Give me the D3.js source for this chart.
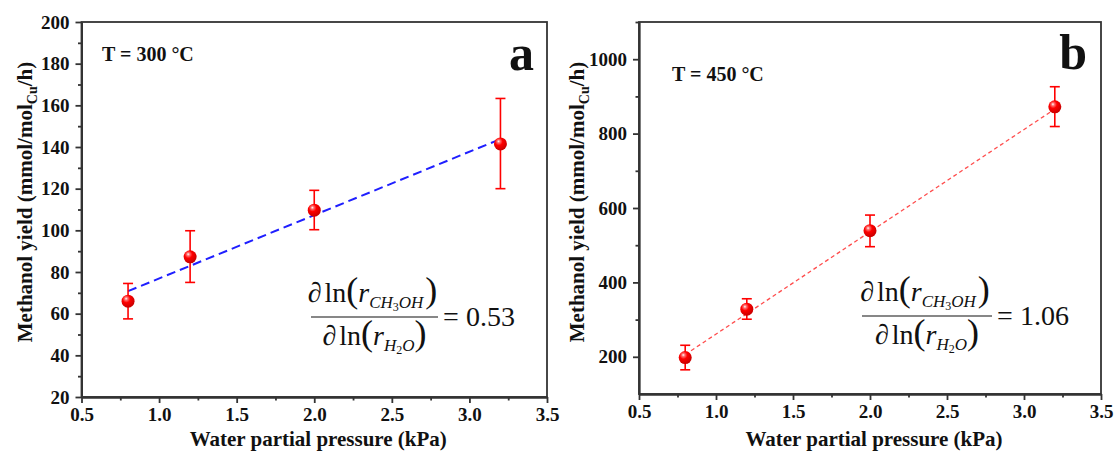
<!DOCTYPE html>
<html>
<head>
<meta charset="utf-8">
<script src="https://cdn.jsdelivr.net/npm/d3@7"></script>
<style>
  body { margin: 0; background: #fff; }
  svg { display: block; }
  .tick text { font-family: "Liberation Serif", "Times New Roman", serif; font-weight: bold; font-size: 19px; fill: #111; }
  .axis path, .axis line { stroke: #333; stroke-width: 1.8; }
  .title { font-family: "Liberation Serif", "Times New Roman", serif; font-weight: bold; fill: #111; }
  .eq { font-family: "Liberation Serif", "Times New Roman", serif; fill: #111; }
</style>
</head>
<body>
<svg id="chart" width="1116" height="453"></svg>
<script>
// Water partial pressure (kPa)
var pressure = [0.8, 1.2, 2.0, 3.2];

// Panel a, T = 300 C
var yield300 = [66, 87.3, 109.7, 141.5];
var err300Low = [57.5, 75, 100.3, 120];
var err300High = [74.5, 99.8, 119.2, 163.3];
var fit300X = [0.8, 3.2];
var fit300Y = [70.8, 143.8];

// Panel b, T = 450 C
var yield450 = [198, 328, 539, 872];
var err450Low = [165, 301, 496, 819];
var err450High = [231, 356, 581, 926];
var fit450X = [0.8, 3.2];
var fit450Y = [206, 866];

// Ticks
var xTicks = [0.5, 1.0, 1.5, 2.0, 2.5, 3.0, 3.5];
var xMinor = [0.75, 1.25, 1.75, 2.25, 2.75, 3.25];
var yTicks300 = [20, 40, 60, 80, 100, 120, 140, 160, 180, 200];
var yMinor300 = [30, 50, 70, 90, 110, 130, 150, 170, 190];
var yTicks450 = [200, 400, 600, 800, 1000];
var yMinor450 = [300, 500, 700, 900, 1100];

var svg = d3.select("#chart");

// sphere look for the markers
var defs = svg.append("defs");
var grad = defs.append("radialGradient")
    .attr("id", "sphere")
    .attr("cx", "40%").attr("cy", "35%").attr("r", "65%")
    .attr("fx", "35%").attr("fy", "30%");
grad.append("stop").attr("offset", "0%").attr("stop-color", "#ffffff");
grad.append("stop").attr("offset", "18%").attr("stop-color", "#ff7070");
grad.append("stop").attr("offset", "45%").attr("stop-color", "#ff0000");
grad.append("stop").attr("offset", "100%").attr("stop-color", "#c80000");

var panels = [
    {
        left: 81.5, right: 547, top: 22, bottom: 397,
        yDomain: [20, 200], yTicks: yTicks300, yMinor: yMinor300,
        values: yield300, low: err300Low, high: err300High,
        fitX: fit300X, fitY: fit300Y,
        fitColor: "#1f1fff", fitWidth: 2, fitDash: "9,5",
        temp: "T = 300 °C", tempX: 102, tempY: 61,
        letter: "a", letterX: 534, letterY: 70,
        yTitleX: 25,
        eqX: 311, eqY: 317, eqW: 127, eqValue: "0.53"
    },
    {
        left: 639, right: 1101, top: 22, bottom: 394,
        yDomain: [100, 1100], yTicks: yTicks450, yMinor: yMinor450,
        values: yield450, low: err450Low, high: err450High,
        fitX: fit450X, fitY: fit450Y,
        fitColor: "#ff4d4d", fitWidth: 1.3, fitDash: "4,3",
        temp: "T = 450 °C", tempX: 672, tempY: 81,
        letter: "b", letterX: 1087, letterY: 69,
        yTitleX: 577,
        eqX: 862, eqY: 316, eqW: 130, eqValue: "1.06"
    }
];

panels.forEach(drawPanel);

/**
 * Draws one panel: axes, frame, fit line, error bars, markers and labels.
 */
function drawPanel(p)
{
    var x = d3.scaleLinear().domain([0.5, 3.5]).range([p.left, p.right]);
    var y = d3.scaleLinear().domain(p.yDomain).range([p.bottom, p.top]);
    var g = svg.append("g");

    // frame
    g.append("rect")
        .attr("x", p.left).attr("y", p.top)
        .attr("width", p.right - p.left).attr("height", p.bottom - p.top)
        .attr("fill", "none").attr("stroke", "#333").attr("stroke-width", 1.8);

    // axes
    g.append("g")
        .attr("class", "axis")
        .attr("transform", "translate(0," + p.bottom + ")")
        .call(d3.axisBottom(x).tickValues(xTicks).tickFormat(d3.format(".1f"))
            .tickSize(6).tickSizeOuter(0).tickPadding(5));
    g.append("g")
        .attr("class", "axis")
        .attr("transform", "translate(0," + p.bottom + ")")
        .call(d3.axisBottom(x).tickValues(xMinor).tickFormat("")
            .tickSize(3.5).tickSizeOuter(0));
    g.append("g")
        .attr("class", "axis")
        .attr("transform", "translate(" + p.left + ",0)")
        .call(d3.axisLeft(y).tickValues(p.yTicks).tickFormat(d3.format("d"))
            .tickSize(6).tickSizeOuter(0).tickPadding(6));
    g.append("g")
        .attr("class", "axis")
        .attr("transform", "translate(" + p.left + ",0)")
        .call(d3.axisLeft(y).tickValues(p.yMinor).tickFormat("")
            .tickSize(3.5).tickSizeOuter(0));

    // fit line
    var fit = p.fitX.map((d, i) => [d, p.fitY[i]]);
    g.append("path")
        .datum(fit)
        .attr("d", d3.line().x(d => x(d[0])).y(d => y(d[1])))
        .attr("fill", "none")
        .attr("stroke", p.fitColor)
        .attr("stroke-width", p.fitWidth)
        .attr("stroke-dasharray", p.fitDash);

    // error bars
    var rows = pressure.map((d, i) => ({x: d, v: p.values[i], lo: p.low[i], hi: p.high[i]}));
    var eb = g.selectAll(".err").data(rows).enter().append("g")
        .attr("stroke", "#ff0000").attr("stroke-width", 1.6);
    eb.append("line")
        .attr("x1", d => x(d.x)).attr("x2", d => x(d.x))
        .attr("y1", d => y(d.lo)).attr("y2", d => y(d.hi));
    eb.append("line")
        .attr("x1", d => x(d.x) - 5).attr("x2", d => x(d.x) + 5)
        .attr("y1", d => y(d.lo)).attr("y2", d => y(d.lo));
    eb.append("line")
        .attr("x1", d => x(d.x) - 5).attr("x2", d => x(d.x) + 5)
        .attr("y1", d => y(d.hi)).attr("y2", d => y(d.hi));

    // markers
    g.selectAll(".pt").data(rows).enter().append("circle")
        .attr("cx", d => x(d.x)).attr("cy", d => y(d.v))
        .attr("r", 6.5)
        .attr("fill", "url(#sphere)");

    // temperature and panel letter
    g.append("text").attr("class", "title")
        .attr("x", p.tempX).attr("y", p.tempY)
        .attr("font-size", 20)
        .text(p.temp);
    g.append("text").attr("class", "title")
        .attr("x", p.letterX).attr("y", p.letterY)
        .attr("text-anchor", "end")
        .attr("font-size", 50)
        .text(p.letter);

    // axis titles
    g.append("text").attr("class", "title")
        .attr("x", (p.left + p.right) / 2 + 4).attr("y", 446)
        .attr("text-anchor", "middle")
        .attr("font-size", 21)
        .text("Water partial pressure (kPa)");
    var yt = g.append("text").attr("class", "title")
        .attr("transform", "translate(" + p.yTitleX + "," + 202 + ") rotate(-90)")
        .attr("text-anchor", "middle")
        .attr("dy", "0.35em")
        .attr("font-size", 21);
    yt.append("tspan").text("Methanol yield (mmol/mol");
    yt.append("tspan").attr("font-size", 14).attr("dy", 5).text("Cu");
    yt.append("tspan").attr("dy", -5).text("/h)");

    drawEquation(g, p.eqX, p.eqY, p.eqW, p.eqValue);
}

/**
 * Writes a run of tspans with its own sizes, styles and baseline shifts.
 */
function writeRun(text, parts)
{
    var prev = 0;
    parts.forEach(function(s) {
        var shift = s.shift || 0;
        var t = text.append("tspan")
            .attr("font-size", s.size)
            .attr("dy", shift - prev)
            .text(s.t);
        if (s.italic) t.attr("font-style", "italic");
        if (s.dx) t.attr("dx", s.dx);
        prev = shift;
    });
}

/**
 * Draws the reaction order fraction d ln(r_CH3OH) / d ln(r_H2O) = value.
 */
function drawEquation(g, x0, barY, barW, value)
{
    var cx = x0 + barW / 2;
    g.append("line")
        .attr("x1", x0).attr("x2", x0 + barW)
        .attr("y1", barY).attr("y2", barY)
        .attr("stroke", "#111").attr("stroke-width", 1.2);

    var num = g.append("text").attr("class", "eq")
        .attr("x", cx - 2).attr("y", barY - 15)
        .attr("text-anchor", "middle");
    writeRun(num, [
        {t: "\u2202", size: 28, italic: true},
        {t: "ln", size: 28, dx: 3},
        {t: "(", size: 36},
        {t: "r", size: 28, italic: true},
        {t: "CH", size: 17, italic: true, shift: 6},
        {t: "3", size: 12, shift: 9},
        {t: "OH", size: 17, italic: true, shift: 6},
        {t: ")", size: 36, dx: 2}
    ]);

    var den = g.append("text").attr("class", "eq")
        .attr("x", cx).attr("y", barY + 28)
        .attr("text-anchor", "middle");
    writeRun(den, [
        {t: "\u2202", size: 28, italic: true},
        {t: "ln", size: 28, dx: 3},
        {t: "(", size: 36},
        {t: "r", size: 28, italic: true},
        {t: "H", size: 17, italic: true, shift: 6},
        {t: "2", size: 12, shift: 9},
        {t: "O", size: 17, italic: true, shift: 6},
        {t: ")", size: 36}
    ]);

    g.append("text").attr("class", "eq")
        .attr("x", x0 + barW + 5).attr("y", barY + 9)
        .attr("font-size", 28)
        .text("=");
    g.append("text").attr("class", "eq")
        .attr("x", x0 + barW + 28).attr("y", barY + 9)
        .attr("font-size", 28)
        .text(value);
}
</script>
</body>
</html>
